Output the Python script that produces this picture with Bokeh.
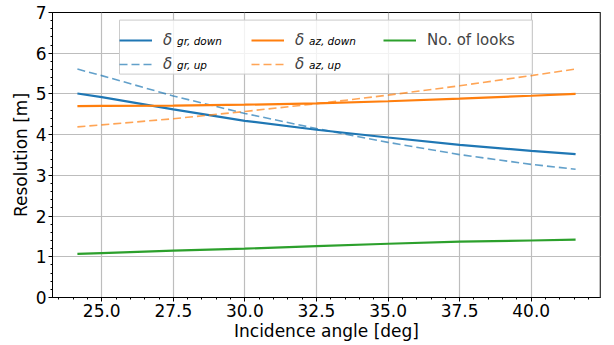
import numpy as np
from bokeh.plotting import figure
from bokeh.models import (Range1d, SingleIntervalTicker, PrintfTickFormatter, Legend,
                          LegendItem, Label, Span, BoxAnnotation)
from bokeh.embed import file_html
from bokeh.resources import INLINE

# ---- data ----
angle = [24.15, 25.0, 27.5, 30.0, 32.5, 35.0, 37.5, 40.0, 41.55]
gr_down = [5.01, 4.92, 4.62, 4.34, 4.12, 3.93, 3.75, 3.60, 3.52]
gr_up = [5.61, 5.45, 4.95, 4.52, 4.15, 3.81, 3.51, 3.27, 3.15]
az_down = [4.70, 4.705, 4.715, 4.735, 4.77, 4.82, 4.885, 4.955, 5.00]
az_up = [4.19, 4.24, 4.39, 4.57, 4.76, 4.97, 5.20, 5.45, 5.61]
looks = [1.07, 1.09, 1.15, 1.20, 1.26, 1.32, 1.37, 1.40, 1.42]

delta_labels = ["δ", "δ", "δ", "δ"]
subscripts = ["gr, down", "gr, up", "az, down", "az, up"]
looks_label = "No. of looks"
x_label = "Incidence angle [deg]"
y_label = "Resolution [m]"

FONT = "DejaVu Sans"
W, H = 614, 345
BL, BR, BT, BB = 52, 14, 12, 48
FRAME_W, FRAME_H = W - BL - BR, H - BT - BB

x_lo, x_hi = min(angle), max(angle)
pad = 0.05 * (x_hi - x_lo)
x_start, x_end = x_lo - pad, x_hi + pad

p = figure(width=W, height=H, output_backend="svg", toolbar_location=None,
           x_range=Range1d(x_start, x_end), y_range=Range1d(0, 7),
           min_border_left=BL, min_border_right=BR, min_border_top=BT, min_border_bottom=BB)
p.background_fill_color = "white"
p.border_fill_color = "white"
p.outline_line_color = "black"
p.outline_line_width = 1

p.xaxis.ticker = SingleIntervalTicker(interval=2.5, num_minor_ticks=5)
p.yaxis.ticker = SingleIntervalTicker(interval=1, num_minor_ticks=5)
p.xaxis.formatter = PrintfTickFormatter(format="%.1f")
p.xaxis.axis_label = x_label
p.yaxis.axis_label = y_label
for ax in (p.xaxis, p.yaxis):
    ax.major_label_text_font = FONT
    ax.major_label_text_font_size = "17px"
    ax.major_label_text_color = "black"
    ax.major_label_text_line_height = 1.0
    ax.axis_label_text_font = FONT
    ax.axis_label_text_font_size = "17px"
    ax.axis_label_text_font_style = "normal"
    ax.axis_label_text_color = "black"
    ax.axis_label_text_line_height = 1.0
    ax.axis_line_color = "black"
    ax.major_tick_line_color = "black"
    ax.minor_tick_line_color = "black"
    ax.major_tick_out = 4
    ax.major_tick_in = 0
    ax.minor_tick_out = 2
    ax.minor_tick_in = 0
p.xaxis.major_label_standoff = 2
p.xaxis.axis_label_standoff = 1
p.yaxis.major_label_standoff = 2
p.yaxis.axis_label_standoff = 2

p.grid.grid_line_color = "#bdbdbd"
p.grid.grid_line_width = 1.2

r1 = p.line(angle, gr_down, line_color="#1f77b4", line_width=2.2)
r2 = p.line(angle, gr_up, line_color="#1f77b4", line_alpha=0.7, line_width=1.6, line_dash="8 4")
r3 = p.line(angle, az_down, line_color="#ff7f0e", line_width=2.2)
r4 = p.line(angle, az_up, line_color="#ff7f0e", line_alpha=0.7, line_width=1.6, line_dash="8 4")
r5 = p.line(angle, looks, line_color="#2ca02c", line_width=2.2)

p.add_layout(Span(location=x_end, dimension="height", line_color="#808080", line_width=2))

# legend geometry (screen px, relative to the frame's bottom-left)
GW, GH, STANDOFF, SPACING, PADDING, LABEL_W = 33, 20, 11, 4, 5, 84
BOX_W, BOX_H = 413, 2 * PADDING + 2 * GH + SPACING
LEG_X = 67
LEG_Y = FRAME_H - 7.6 - BOX_H
COL_PITCH = GW + STANDOFF + LABEL_W + SPACING

p.add_layout(BoxAnnotation(left=LEG_X, right=LEG_X + BOX_W, bottom=LEG_Y, top=LEG_Y + BOX_H,
                           left_units="screen", right_units="screen",
                           bottom_units="screen", top_units="screen",
                           fill_color="white", fill_alpha=0.8,
                           line_color="#cccccc", line_width=1, line_alpha=1))

common = dict(glyph_width=GW, glyph_height=GH, label_height=GH, label_width=LABEL_W,
              label_standoff=STANDOFF, spacing=SPACING, padding=PADDING, margin=0,
              label_text_font=FONT, label_text_font_size="15px",
              border_line_color=None, background_fill_alpha=0)

items = [LegendItem(label=t, renderers=[r]) for t, r in zip(delta_labels, [r1, r2, r3, r4])]
leg1 = Legend(items=items, location=(LEG_X, LEG_Y), orientation="vertical", nrows=2,
              label_text_font_style="italic", **common)
p.add_layout(leg1)

leg2 = Legend(items=[LegendItem(label=looks_label, renderers=[r5])],
              location=(LEG_X + 2 * COL_PITCH, LEG_Y + GH + SPACING), **common)
p.add_layout(leg2)

row_centers = [LEG_Y + PADDING + GH + SPACING + GH / 2, LEG_Y + PADDING + GH / 2]
delta_x0 = LEG_X + PADDING + GW + STANDOFF
for i, txt in enumerate(subscripts):
    col, row = divmod(i, 2)
    sx = delta_x0 + col * COL_PITCH + 8.5
    sy = row_centers[row] - 5.7
    p.add_layout(Label(x=sx, y=sy, x_units="screen", y_units="screen", text=txt,
                       text_font=FONT, text_font_size="10.5px", text_font_style="italic",
                       text_baseline="alphabetic", text_color="black", level="overlay"))

open("out.html", "w").write(file_html(p, INLINE))
